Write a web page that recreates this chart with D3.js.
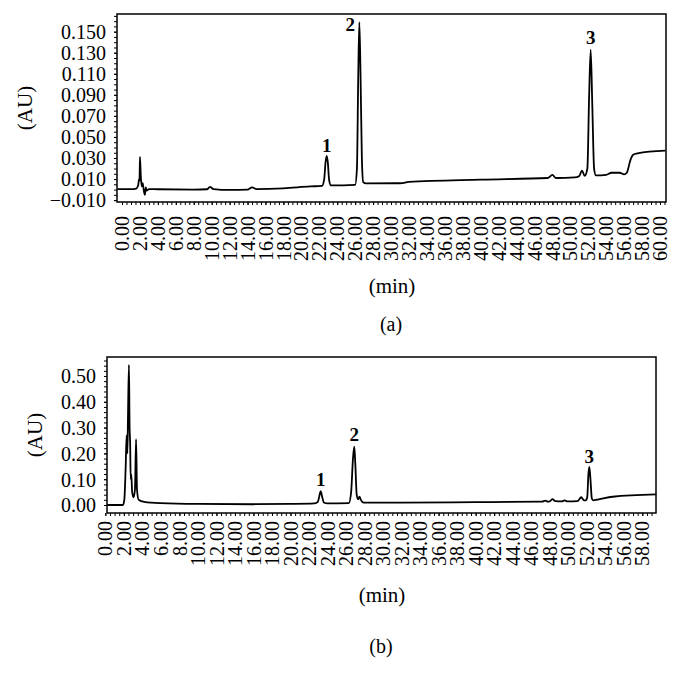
<!DOCTYPE html>
<html>
<head>
<meta charset="utf-8">
<script src="https://cdn.jsdelivr.net/npm/d3@7"></script>
<style>
  body { margin: 0; background: #fff; }
  text { font-family: "Liberation Serif", "Times New Roman", serif; fill: #000; }
</style>
</head>
<body>
<svg id="chart" width="681" height="681"></svg>
<script>
// ----- data -----
// (a) time in min, absorbance in AU
const timeA = [-0.5, 1.0, 1.6, 1.8, 1.9, 1.95, 2.0, 2.1, 2.2, 2.3, 2.45, 2.55, 2.65, 2.75, 3.0, 4, 8, 9.5, 9.8, 10.2, 12, 14, 14.5, 15, 18, 21,
  22.3, 22.55, 22.7, 22.83, 22.95, 23.1, 23.3, 26.0, 26.2, 26.35, 26.47, 26.6, 26.75, 26.9, 27.2, 30.5, 31.3, 32, 40, 47.5, 48.0, 48.4,
  50.5, 51.0, 51.3, 51.6, 51.9, 52.1, 52.27, 52.45, 52.65, 52.85, 54, 54.6, 55.5, 56.0, 56.3, 56.7, 57.0, 57.5, 60.6];
const absA = [0.0005, 0.0005, 0.001, 0.004, 0.010, 0.008, 0.031, 0.012, 0.003, 0.006, -0.002, -0.005, 0.002, -0.001, 0.0005, 0.0003, 0.0, 0.0003, 0.0025, 0.0005, -0.0003, 0.0, 0.002, 0.0005, 0.0012, 0.003,
  0.0035, 0.010, 0.026, 0.032, 0.026, 0.009, 0.004, 0.0045, 0.020, 0.110, 0.159, 0.110, 0.030, 0.007, 0.0058, 0.006, 0.0062, 0.0073, 0.0095, 0.011, 0.014, 0.011,
  0.0115, 0.013, 0.018, 0.013, 0.020, 0.090, 0.133, 0.080, 0.020, 0.0135, 0.014, 0.016, 0.016, 0.0145, 0.016, 0.028, 0.033, 0.0345, 0.037];

// (b)
const timeB = [0.2, 1.9, 2.05, 2.2, 2.3, 2.38, 2.45, 2.55, 2.62, 2.68, 2.74, 2.8, 2.9, 3.05, 3.2, 3.32, 3.42, 3.6, 4.2, 6, 10, 16, 20,
  22.6, 22.95, 23.15, 23.26, 23.4, 23.6, 24, 26.3, 26.55, 26.75, 26.89, 27.0, 27.15, 27.3, 27.45, 27.6, 27.9, 32, 40, 47.2, 47.5, 47.8,
  48.0, 48.3, 48.6, 49.3, 49.6, 49.9, 51.0, 51.4, 51.7, 51.9, 52.05, 52.18, 52.28, 52.4, 52.55, 52.7, 53.3, 54.8, 59.5];
const absB = [0.0, 0.0, 0.02, 0.15, 0.27, 0.20, 0.35, 0.543, 0.30, 0.24, 0.10, 0.12, 0.05, 0.03, 0.06, 0.255, 0.06, 0.02, 0.012, 0.007, 0.004, 0.003, 0.004,
  0.006, 0.012, 0.040, 0.054, 0.035, 0.010, 0.006, 0.007, 0.050, 0.180, 0.226, 0.160, 0.040, 0.022, 0.032, 0.020, 0.009, 0.009, 0.011, 0.013, 0.017, 0.013,
  0.014, 0.023, 0.015, 0.014, 0.018, 0.014, 0.015, 0.030, 0.018, 0.018, 0.030, 0.120, 0.148, 0.100, 0.025, 0.018, 0.022, 0.032, 0.041];

// tick labels
const xTicksA = [0, 2, 4, 6, 8, 10, 12, 14, 16, 18, 20, 22, 24, 26, 28, 30, 32, 34, 36, 38, 40, 42, 44, 46, 48, 50, 52, 54, 56, 58, 60];
const yTicksA = [-0.010, 0.010, 0.030, 0.050, 0.070, 0.090, 0.110, 0.130, 0.150];
const xTicksB = [0, 2, 4, 6, 8, 10, 12, 14, 16, 18, 20, 22, 24, 26, 28, 30, 32, 34, 36, 38, 40, 42, 44, 46, 48, 50, 52, 54, 56, 58];
const yTicksB = [0.00, 0.10, 0.20, 0.30, 0.40, 0.50];

// numbered peaks
const peakNames = ["1", "2", "3"];
const peakTimesA = [22.83, 26.47, 52.27];
const peakAbsA = [0.032, 0.159, 0.133];
const peakTimesB = [23.26, 26.89, 52.28];
const peakAbsB = [0.054, 0.226, 0.148];

const svg = d3.select("#chart");

function drawChart(o) {
  const g = svg.append("g").attr("transform", `translate(${o.left},${o.top})`);
  const x = d3.scaleLinear().domain(o.xDomain).range([0, o.width]);
  const y = d3.scaleLinear().domain(o.yDomain).range([o.height, 0]);

  // minor ticks
  g.append("g").attr("transform", `translate(0,${o.height})`)
    .call(d3.axisBottom(x).tickValues(d3.range(0, o.xDomain[1], 0.5)).tickSize(3).tickFormat(""))
    .call(a => a.select(".domain").remove());
  g.append("g")
    .call(d3.axisLeft(y).tickValues(d3.range(o.yMinorStart, o.yDomain[1], o.yMinor)).tickSize(3).tickFormat(""))
    .call(a => a.select(".domain").remove());

  // tick labels
  const xa = g.append("g").attr("transform", `translate(0,${o.height})`)
    .call(d3.axisBottom(x).tickValues(o.xTicks).tickSize(3).tickFormat(d3.format(".2f")));
  xa.select(".domain").remove();
  xa.selectAll("text")
    .attr("font-size", 20)
    .attr("transform", "rotate(-90)")
    .attr("text-anchor", "end")
    .attr("x", -o.xLabelGap).attr("y", 0).attr("dy", "0.33em");

  const ya = g.append("g")
    .call(d3.axisLeft(y).tickValues(o.yTicks).tickSize(3).tickFormat(d3.format(o.yFormat)));
  ya.select(".domain").remove();
  ya.selectAll("text").attr("font-size", 20).attr("x", -11).attr("dy", "0.34em");
  g.selectAll(".tick line").attr("stroke", "#000").attr("stroke-width", 1);

  // frame
  g.append("rect").attr("width", o.width).attr("height", o.height)
    .attr("fill", "none").attr("stroke", "#000").attr("stroke-width", 1.5);

  // trace
  const pts = o.times.map((t, i) => [t, o.values[i]]);
  const lineGen = d3.line()
    .x(d => x(d[0]))
    .y(d => y(d[1]))
    .curve(d3.curveMonotoneX);
  g.append("path").datum(pts)
    .attr("fill", "none").attr("stroke", "#000").attr("stroke-width", 1.8)
    .attr("d", lineGen);

  // peak numbers
  peakNames.forEach((p, i) => {
    const off = o.peakOffsets[i];
    g.append("text")
      .attr("x", x(o.peakTimes[i]) + off[0])
      .attr("y", y(o.peakAbs[i]) + off[1])
      .attr("text-anchor", "middle")
      .attr("font-size", 19).attr("font-weight", "bold")
      .text(p);
  });

  // axis titles
  svg.append("text")
    .attr("transform", `translate(${o.yTitle[0]},${o.yTitle[1]}) rotate(-90)`)
    .attr("text-anchor", "middle").attr("dy", "0.35em")
    .attr("font-size", 21).text("(AU)");
  svg.append("text").attr("x", o.xTitle[0]).attr("y", o.xTitle[1])
    .attr("text-anchor", "middle").attr("font-size", 21).text("(min)");
  svg.append("text").attr("x", o.caption[0]).attr("y", o.caption[1])
    .attr("text-anchor", "middle").attr("font-size", 20).text(o.captionText);
}

drawChart({
  left: 117, top: 14, width: 549, height: 188,
  xDomain: [-0.56, 60.67], yDomain: [-0.0118, 0.1668],
  yMinorStart: -0.010, yMinor: 0.005,
  times: timeA, values: absA,
  xTicks: xTicksA, yTicks: yTicksA, yFormat: ".3f", xLabelGap: 14,
  peakTimes: peakTimesA, peakAbs: peakAbsA,
  peakOffsets: [[0, -4], [-9, 9], [0, -6]],
  yTitle: [25, 108], xTitle: [392, 293], caption: [391, 331], captionText: "(a)"
});

drawChart({
  left: 107, top: 357, width: 549, height: 156,
  xDomain: [0.18, 59.48], yDomain: [-0.031, 0.5736],
  yMinorStart: 0.0, yMinor: 0.02,
  times: timeB, values: absB,
  xTicks: xTicksB, yTicks: yTicksB, yFormat: ".2f", xLabelGap: 8,
  peakTimes: peakTimesB, peakAbs: peakAbsB,
  peakOffsets: [[0, -5], [0, -6], [0, -4]],
  yTitle: [35, 435], xTitle: [382, 602], caption: [381, 653], captionText: "(b)"
});
</script>
</body>
</html>
